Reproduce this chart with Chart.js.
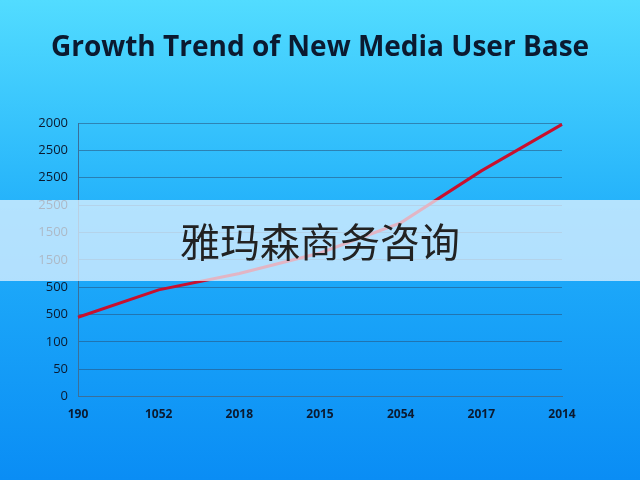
<!DOCTYPE html>
<html>
<head>
<meta charset="utf-8">
<script src="https://cdn.jsdelivr.net/npm/chart.js@4"></script>
<style>
  html, body { margin: 0; padding: 0; }
  #wrap { position: relative; width: 640px; height: 480px; background: linear-gradient(#52dcff 0%, #22b0fa 45%, #0a8df5 100%); }
  #title { position: absolute; left: 0; top: 26px; width: 640px; text-align: center;
    font-family: "Open Sans"; font-weight: bold; font-size: 28px; color: #0b1a30; }
  #band { position: absolute; left: 0; top: 200px; width: 640px; height: 81px; background: rgba(235,245,255,0.72);
    font-family: "Noto Sans CJK SC"; font-size: 40px; color: #222; text-align: center; line-height: 81px; }
</style>
</head>
<body>
<div id="wrap">
  <canvas id="chart" width="640" height="480"></canvas>
  <div id="title">Growth Trend of New Media User Base</div>
  <div id="band">雅玛森商务咨询</div>
</div>
<script>
const years = ["190", "1052", "2018", "2015", "2054", "2017", "2014"];
const users = [2.9, 3.9, 4.5, 5.25, 6.35, 8.25, 9.95];
const yLabels = ["0", "50", "100", "500", "500", "1500", "1500", "2500", "2500", "2500", "2000"];

const ctx = document.getElementById("chart").getContext("2d");
new Chart(ctx, {
  type: "line",
  data: {
    labels: years,
    datasets: [{
      data: users,
      borderColor: "#c8102e",
      borderWidth: 3,
      pointRadius: 0,
      fill: false,
      tension: 0
    }]
  },
  options: {
    responsive: false,
    animation: false,
    layout: { padding: { left: 10, right: 78, top: 123, bottom: 55 } },
    plugins: { legend: { display: false }, tooltip: { enabled: false } },
    scales: {
      x: {
        offset: false,
        grid: { display: false },
        border: { color: "#3a6f9a" },
        ticks: { color: "#0b1a30", font: { family: "Open Sans", size: 12, weight: "bold" }, maxRotation: 0 }
      },
      y: {
        min: 0, max: 10,
        afterFit: s => { s.width = 68; },
        grid: { color: "rgba(40,80,120,0.55)", drawTicks: false },
        border: { color: "#3a6f9a" },
        ticks: {
          stepSize: 1, padding: 10,
          color: "#0b1a30", font: { family: "Open Sans", size: 13 },
          callback: v => yLabels[v]
        }
      }
    }
  }
});
</script>
</body>
</html>
